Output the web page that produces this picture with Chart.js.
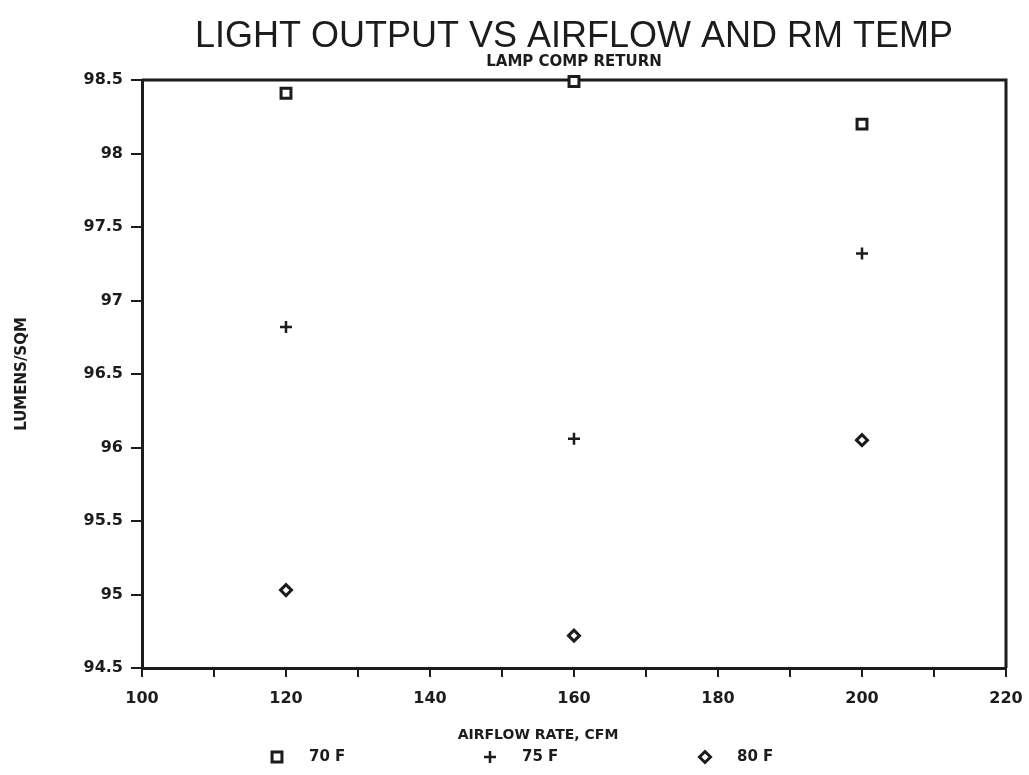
<!DOCTYPE html>
<html>
<head>
<meta charset="utf-8">
<title>Light output vs airflow and room temperature</title>
<script src="https://cdn.jsdelivr.net/npm/chart.js@4.4.1/dist/chart.umd.min.js"></script>
<style>
  html, body { margin: 0; padding: 0; background: #fff; }
  #wrap { width: 1029px; height: 775px; }
</style>
</head>
<body>
<div id="wrap"><canvas id="lightChart" width="1029" height="775"></canvas></div>
<script>
// Airflow settings tested (CFM)
var airflow = [120, 160, 200];

// Light output (lumens/sq m) at each room temperature
var lumens70F = [98.41, 98.49, 98.2];
var lumens75F = [96.82, 96.06, 97.32];
var lumens80F = [95.03, 94.72, 96.05];

var seriesNames = ['70 F', '75 F', '80 F'];
var xTickLabels = [100, 120, 140, 160, 180, 200, 220];
var yTickLabels = [94.5, 95, 95.5, 96, 96.5, 97, 97.5, 98, 98.5];

var ink = '#1d1b1c';
var tickFont = { family: '"DejaVu Sans", sans-serif', weight: 'bold', size: 16 };

function toPoints(ys) {
  return airflow.map(function (x, i) { return { x: x, y: ys[i] }; });
}

// Close the plot box (the axes only draw left and bottom)
var plotFrame = {
  id: 'plotFrame',
  beforeDatasetsDraw: function (chart) {
    var a = chart.chartArea;
    var ctx = chart.ctx;
    ctx.save();
    ctx.strokeStyle = ink;
    ctx.lineWidth = 3;
    ctx.beginPath();
    ctx.moveTo(a.left, a.top);
    ctx.lineTo(a.right, a.top);
    ctx.lineTo(a.right, a.bottom);
    ctx.stroke();
    ctx.restore();
  }
};

// Axis caption and marker key under the plot
var bottomKey = {
  id: 'bottomKey',
  afterDraw: function (chart) {
    var ctx = chart.ctx;
    var keyY = 757;
    var keyX = [277, 490, 705];
    ctx.save();
    ctx.fillStyle = ink;
    ctx.font = 'bold 14px "DejaVu Sans"';
    ctx.textAlign = 'center';
    ctx.textBaseline = 'middle';
    ctx.fillText('AIRFLOW RATE, CFM', 538, 735);
    ctx.font = 'bold 15px "DejaVu Sans"';
    ctx.textAlign = 'left';
    chart.data.datasets.forEach(function (ds, i) {
      ctx.strokeStyle = ds.pointBorderColor;
      ctx.fillStyle = ds.pointBackgroundColor;
      ctx.lineWidth = ds.pointBorderWidth;
      Chart.helpers.drawPoint(ctx, {
        pointStyle: ds.pointStyle,
        radius: ds.pointRadius,
        borderWidth: ds.pointBorderWidth,
        rotation: 0
      }, keyX[i], keyY);
      ctx.fillStyle = ink;
      ctx.fillText(ds.label, keyX[i] + 32, keyY);
    });
    ctx.restore();
  }
};

var ctx = document.getElementById('lightChart');
var lightChart = new Chart(ctx, {
  type: 'scatter',
  data: {
    datasets: [{
      label: seriesNames[0],
      data: toPoints(lumens70F),
      pointStyle: 'rect',
      pointRadius: 7,
      pointBorderWidth: 3,
      pointBorderColor: ink,
      pointBackgroundColor: '#fff',
      clip: false
    }, {
      label: seriesNames[1],
      data: toPoints(lumens75F),
      pointStyle: 'cross',
      pointRadius: 6,
      pointBorderWidth: 2.5,
      pointBorderColor: ink,
      pointBackgroundColor: ink,
      clip: false
    }, {
      label: seriesNames[2],
      data: toPoints(lumens80F),
      pointStyle: 'rectRot',
      pointRadius: 5.5,
      pointBorderWidth: 3,
      pointBorderColor: ink,
      pointBackgroundColor: '#fff',
      clip: false
    }]
  },
  options: {
    responsive: false,
    animation: false,
    layout: { padding: { left: 0, right: 23, top: 0, bottom: 0 } },
    scales: {
      x: {
        type: 'linear',
        min: xTickLabels[0],
        max: xTickLabels[xTickLabels.length - 1],
        ticks: {
          stepSize: 10,
          autoSkip: false,
          maxRotation: 0,
          padding: 12,
          color: ink,
          font: tickFont,
          callback: function (value) {
            return xTickLabels.indexOf(value) >= 0 ? String(value) : '';
          }
        },
        grid: { drawOnChartArea: false, drawTicks: true, tickLength: 9, color: ink, lineWidth: 2 },
        border: { display: true, color: ink, width: 3 },
        afterFit: function (scale) {
          scale.height = 107;
          // the "220" label may hang past the plot edge
          scale.paddingRight = 0;
        }
      },
      y: {
        min: yTickLabels[0],
        max: yTickLabels[yTickLabels.length - 1],
        ticks: {
          stepSize: 0.5,
          padding: 8,
          color: ink,
          font: tickFont,
          callback: function (value) { return String(Number(value.toFixed(1))); }
        },
        grid: { drawOnChartArea: false, drawTicks: true, tickLength: 11, color: ink, lineWidth: 2 },
        border: { display: true, color: ink, width: 3 },
        title: {
          display: true,
          text: 'LUMENS/SQM',
          color: ink,
          font: { family: '"DejaVu Sans", sans-serif', weight: 'bold', size: 15 },
          padding: { top: 13, bottom: 0 }
        },
        afterFit: function (scale) { scale.width = 142; }
      }
    },
    plugins: {
      legend: { display: false },
      tooltip: { enabled: false },
      title: {
        display: true,
        fullSize: false,
        text: 'LIGHT OUTPUT VS AIRFLOW AND RM TEMP',
        color: ink,
        font: { family: '"Liberation Sans", sans-serif', weight: 'normal', size: 36, lineHeight: 1.0 },
        padding: { top: 19, bottom: 0 }
      },
      subtitle: {
        display: true,
        fullSize: false,
        text: 'LAMP COMP RETURN',
        color: ink,
        font: { family: '"DejaVu Sans", sans-serif', weight: 'bold', size: 15, lineHeight: 1.0 },
        padding: { top: 0, bottom: 10 }
      }
    }
  },
  plugins: [plotFrame, bottomKey]
});
</script>
</body>
</html>
